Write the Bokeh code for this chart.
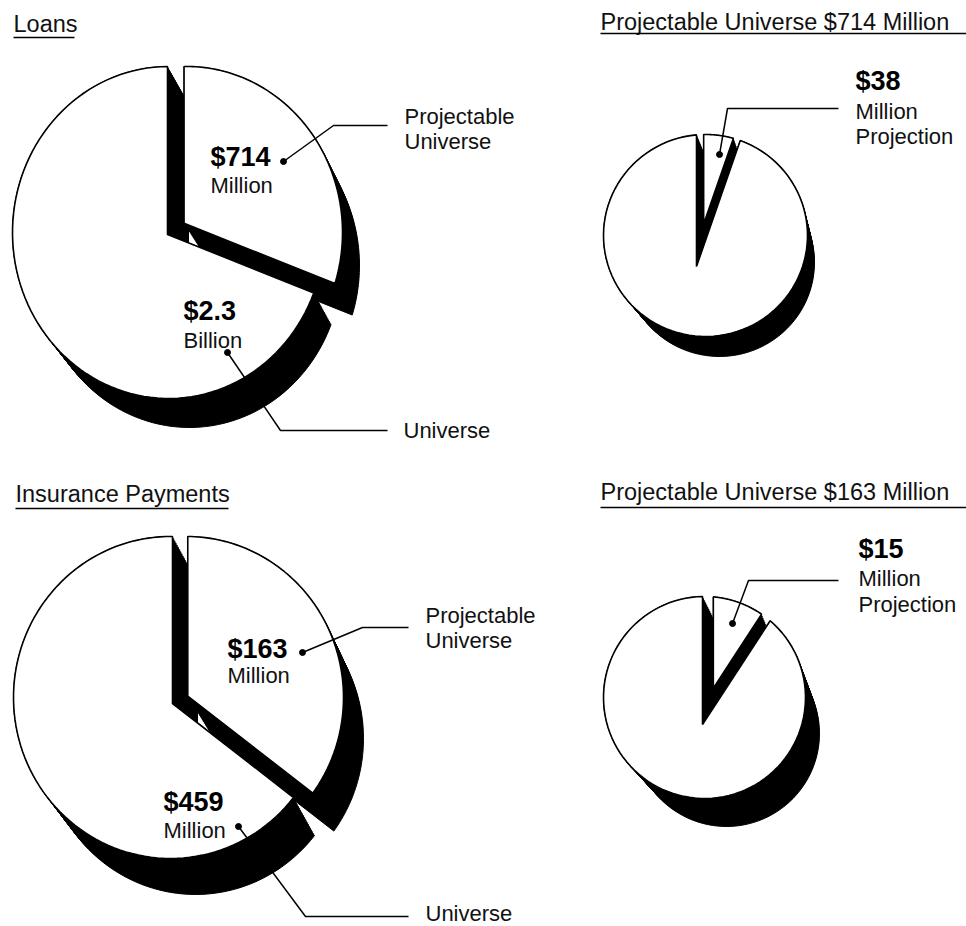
import math
import numpy as np
from bokeh.plotting import figure
from bokeh.models import Range1d, ColumnDataSource
from bokeh.core.properties import value
from bokeh.embed import file_html
from bokeh.resources import INLINE

# ---------------- data ($ millions) ----------------
panel_titles = ["Loans", "Insurance Payments"]
universe_values = [2300, 459]       # whole universe
projectable_values = [714, 163]     # projectable universe (part of universe)
projection_values = [38, 15]        # projection (part of projectable universe)
part_names = ["Projectable\nUniverse", "Million\nProjection"]
whole_name = "Universe"

# ---------------- layout (pixels, y downwards) ----------------
W, H = 966, 926
FONT = value("Liberation Sans")
TDY = -7   # renderer places alphabetic baseline a little low; compensate

# one entry per pie: big pie (loans), small pie (loans), big pie (insurance), small pie (insurance)
pie_layout = [
    dict(C=(168, 232), rx=156, ry=166, A=(167, 234), d=20, cshift=(18, 0), shadow=(21, 33, -4)),
    dict(C=(705, 235), rx=102, ry=101, A=(696, 266), d=43, cshift=(0, 0), shadow=(14, 27, -7)),
    dict(C=(170, 697), rx=157, ry=161, A=(172, 703), d=17, cshift=(16, 0), shadow=(25, 41, -5)),
    dict(C=(704, 697), rx=101, ry=101, A=(702, 724), d=38, cshift=(0, 0), shadow=(22, 36, -8)),
]

pies = [
    (universe_values[0], projectable_values[0]),
    (projectable_values[0], projection_values[0]),
    (universe_values[1], projectable_values[1]),
    (projectable_values[1], projection_values[1]),
]


def unit(theta_deg):
    t = math.radians(theta_deg)
    return math.sin(t), -math.cos(t)


def ray_hit(A, u, C, rx, ry):
    px, py = (A[0] - C[0]) / rx, (A[1] - C[1]) / ry
    qx, qy = u[0] / rx, u[1] / ry
    a = qx * qx + qy * qy
    b = 2 * (px * qx + py * qy)
    c = px * px + py * py - 1
    t = (-b + math.sqrt(max(b * b - 4 * a * c, 0.0))) / (2 * a)
    x, y = A[0] + t * u[0], A[1] + t * u[1]
    return math.atan2((y - C[1]) / ry, (x - C[0]) / rx)


def slice_xy(A, C, rx, ry, th0, th1, n=100):
    f0 = ray_hit(A, unit(th0), C, rx, ry)
    f1 = ray_hit(A, unit(th1), C, rx, ry)
    span = (f1 - f0) % (2 * math.pi)
    ph = f0 + np.linspace(0, span, n)
    xs = [A[0]] + list(C[0] + rx * np.cos(ph))
    ys = [A[1]] + list(C[1] + ry * np.sin(ph))
    return xs, ys


def pie_slices(whole, part, L, t=0.0):
    sweep = 360.0 * part / whole
    ox, oy, dr = L["shadow"]
    C = (L["C"][0] + t * ox, L["C"][1] + t * oy)
    A = (L["A"][0] + t * ox, L["A"][1] + t * oy)
    rx, ry = L["rx"] + t * dr, L["ry"] + t * dr
    bx, by = unit(sweep / 2)
    Ap = (A[0] + L["d"] * bx, A[1] + L["d"] * by)
    Cp = (C[0] + L["cshift"][0], C[1] + L["cshift"][1])
    rest = slice_xy(A, C, rx, ry, sweep, 360.0)
    piece = slice_xy(Ap, Cp, rx, ry, 0.0, sweep)
    return [rest, piece]


shadow_xs, shadow_ys, white_xs, white_ys = [], [], [], []
for (whole, part), L in zip(pies, pie_layout):
    for t in np.linspace(0, 1, 22):
        for xs, ys in pie_slices(whole, part, L, t):
            shadow_xs.append(xs)
            shadow_ys.append(ys)
    for xs, ys in pie_slices(whole, part, L, 0.0):
        white_xs.append(xs)
        white_ys.append(ys)

p = figure(width=W, height=H, x_range=Range1d(0, W), y_range=Range1d(H, 0),
           output_backend="svg", toolbar_location=None, min_border=0,
           x_axis_type=None, y_axis_type=None)
p.grid.visible = False
p.outline_line_color = None
p.background_fill_color = "white"
p.border_fill_color = "white"

p.patches(xs="xs", ys="ys", source=ColumnDataSource(dict(xs=shadow_xs, ys=shadow_ys)),
          fill_color="black", line_color="black", line_width=1)
p.patches(xs="xs", ys="ys", source=ColumnDataSource(dict(xs=white_xs, ys=white_ys)),
          fill_color="white", line_color="black", line_width=1.6)


def money(v):
    if v >= 1000:
        return f"${v / 1000:g}", "Billion"
    return f"${v:g}", "Million"


def ty(ys):
    return [y + TDY for y in ys]


# ---- titles ----
titles = [
    panel_titles[0],
    f"Projectable Universe ${projectable_values[0]:g} Million",
    panel_titles[1],
    f"Projectable Universe ${projectable_values[1]:g} Million",
]
title_x = [13, 600, 15, 600]
title_y = [30, 28, 500, 498]
p.text(x=title_x, y=ty(title_y), text=titles, text_font=FONT, text_font_size="23.5px",
       text_baseline="alphabetic", text_align="left", text_color="#111111")
p.segment(x0=[13, 600, 15, 600], y0=[37, 33, 508, 507],
          x1=[74, 966, 228, 966], y1=[37, 33, 508, 507], line_color="black", line_width=1.4)

# ---- value labels ----
v714, u714 = money(projectable_values[0])
v23, u23 = money(universe_values[0])
v38, u38 = money(projection_values[0])
v163, u163 = money(projectable_values[1])
v459, u459 = money(universe_values[1])
v15, u15 = money(projection_values[1])

bold_txt = [v714, v23, v38, v163, v459, v15]
bold_x = [210, 183, 855, 227, 163, 858]
bold_y = [163, 317, 87, 655, 808, 555]
p.text(x=bold_x, y=ty(bold_y), text=bold_txt, text_font=FONT, text_font_size="27px",
       text_font_style="bold", text_baseline="alphabetic", text_color="black")

proj1, proj2 = part_names[0].split("\n")
mil, projn = part_names[1].split("\n")
reg_txt = [u714, u23, proj1, proj2, whole_name,
           mil, projn,
           u163, u459, proj1, proj2, whole_name,
           mil, projn]
reg_x = [210, 183, 404, 404, 403,
         855, 855,
         227, 163, 425, 425, 425,
         858, 858]
reg_y = [192, 347, 123, 148, 437,
         118, 143,
         682, 837, 622, 647, 920,
         585, 611]
p.text(x=reg_x, y=ty(reg_y), text=reg_txt, text_font=FONT, text_font_size="22px",
       text_baseline="alphabetic", text_color="#111111")

# ---- leader lines ----
lead_xs = [[283, 333, 387], [227, 280, 387], [719, 727, 838],
           [302, 362, 408], [238, 305, 408], [732, 748, 838]]
lead_ys = [[161, 125, 125], [352, 430, 430], [154, 108, 108],
           [652, 627, 627], [826, 916, 916], [623, 580, 580]]
p.multi_line(xs=lead_xs, ys=lead_ys, line_color="black", line_width=1.5)
p.scatter(x=[l[0] for l in lead_xs], y=[l[0] for l in lead_ys], size=6,
          fill_color="black", line_color="black")

open("out.html", "w").write(file_html(p, INLINE))
